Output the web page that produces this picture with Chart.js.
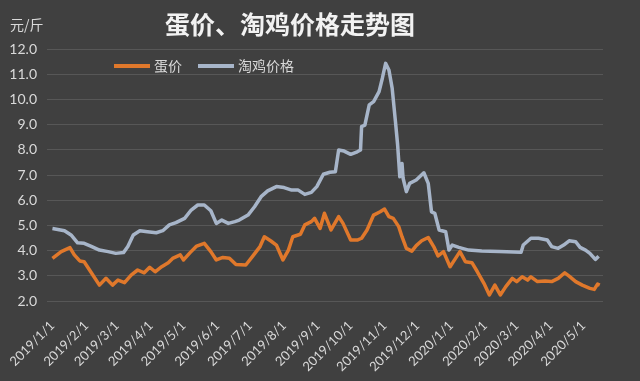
<!DOCTYPE html>
<html>
<head>
<meta charset="utf-8">
<script src="https://cdn.jsdelivr.net/npm/chart.js@4.4.1/dist/chart.umd.min.js"></script>
<style>
  html, body { margin: 0; padding: 0; background: #404040; }
  canvas { display: block; }
</style>
</head>
<body>
<canvas id="chart" width="640" height="381"></canvas>
<script>
var TITLE = '蛋价、淘鸡价格走势图';
var UNIT = '元/斤';
var MONTH_LABELS = ['2019/1/1', '2019/2/1', '2019/3/1', '2019/4/1', '2019/5/1', '2019/6/1',
  '2019/7/1', '2019/8/1', '2019/9/1', '2019/10/1', '2019/11/1', '2019/12/1',
  '2020/1/1', '2020/2/1', '2020/3/1', '2020/4/1', '2020/5/1'];

// days counted from 2019/1/1
var EGG_DAYS = [0, 8, 16, 20, 25, 29, 35, 43, 49, 55, 60, 66, 72, 78, 84, 89, 94, 100, 106, 110,
  117, 120, 126, 132, 139, 145, 150, 156, 162, 168, 177, 183, 190, 194, 200, 205, 211, 216, 220,
  227, 231, 237, 240, 245, 249, 255, 262, 266, 273, 279, 283, 288, 294, 300, 304, 308, 312, 317,
  320, 324, 329, 333, 338, 344, 349, 353, 358, 364, 369, 373, 378, 384, 389, 395, 400, 405, 410,
  415, 421, 425, 430, 435, 438, 444, 451, 457, 463, 469, 473, 479, 485, 492, 496, 499, 501];
var EGG_PRICE = [3.69, 3.96, 4.12, 3.83, 3.59, 3.56, 3.16, 2.63, 2.90, 2.63, 2.83, 2.73, 3.03, 3.23,
  3.12, 3.34, 3.16, 3.36, 3.52, 3.69, 3.83, 3.63, 3.92, 4.18, 4.29, 3.96, 3.63, 3.73, 3.70, 3.45,
  3.43, 3.76, 4.16, 4.55, 4.38, 4.22, 3.63, 4.02, 4.55, 4.65, 5.02, 5.15, 5.28, 4.88, 5.48, 4.82,
  5.35, 5.08, 4.42, 4.42, 4.49, 4.82, 5.41, 5.54, 5.65, 5.35, 5.28, 4.95, 4.55, 4.09, 3.98, 4.20,
  4.39, 4.52, 4.16, 3.79, 3.96, 3.36, 3.69, 3.96, 3.56, 3.52, 3.16, 2.70, 2.24, 2.63, 2.24, 2.57,
  2.90, 2.77, 2.96, 2.83, 2.96, 2.77, 2.79, 2.77, 2.90, 3.12, 2.99, 2.77, 2.63, 2.50, 2.46, 2.67, 2.63];

var HEN_DAYS = [0, 11, 17, 23, 29, 35, 43, 51, 58, 65, 69, 74, 80, 87, 95, 101, 107, 113, 121, 127,
  133, 139, 145, 150, 155, 161, 167, 171, 179, 185, 191, 197, 205, 212, 219, 225, 231, 237, 242,
  248, 254, 259, 262, 267, 273, 279, 282, 283, 286, 290, 294, 299, 302, 305, 308, 311, 314, 316,
  318, 320, 321, 324, 327, 333, 340, 344, 347, 350, 354, 360, 363, 366, 372, 381, 393, 409, 429,
  431, 438, 445, 453, 457, 463, 468, 473, 479, 483, 488, 492, 497, 500];
var HEN_PRICE = [4.88, 4.79, 4.62, 4.31, 4.29, 4.18, 4.02, 3.96, 3.89, 3.92, 4.16, 4.62, 4.79, 4.75,
  4.71, 4.79, 5.02, 5.11, 5.28, 5.61, 5.81, 5.81, 5.58, 5.08, 5.21, 5.08, 5.15, 5.21, 5.41, 5.74,
  6.14, 6.37, 6.54, 6.50, 6.40, 6.40, 6.23, 6.31, 6.54, 7.03, 7.11, 7.13, 7.99, 7.95, 7.82, 7.92,
  7.99, 8.92, 8.98, 9.78, 9.91, 10.31, 10.84, 11.43, 11.17, 10.44, 9.12, 8.19, 6.93, 7.46, 6.87,
  6.34, 6.67, 6.80, 7.09, 6.67, 5.54, 5.48, 4.82, 4.75, 4.02, 4.22, 4.13, 4.02, 3.98, 3.96, 3.93,
  4.22, 4.49, 4.49, 4.42, 4.16, 4.09, 4.22, 4.39, 4.35, 4.13, 4.02, 3.89, 3.65, 3.78];

var SERIES_NAMES = ['蛋价', '淘鸡价格'];
var SERIES_COLORS = ['#e0782b', '#a7b5c9'];

var BG = '#404040';
var TEXT = '#d9d9d9';
var GRID = 'rgba(255,255,255,0.12)';

function dayOf(label) {
  var p = label.split('/');
  return Math.round((Date.UTC(+p[0], +p[1] - 1, +p[2]) - Date.UTC(2019, 0, 1)) / 86400000);
}
var MONTH_DAYS = MONTH_LABELS.map(dayOf);

function points(days, vals) {
  return days.map(function (d, i) { return { x: d, y: vals[i] }; });
}

var decorPlugin = {
  id: 'decor',
  beforeDraw: function (chart) {
    var c = chart.ctx;
    c.save();
    c.fillStyle = BG;
    c.fillRect(0, 0, chart.width, chart.height);
    c.restore();
  },
  afterDraw: function (chart) {
    var c = chart.ctx;
    c.save();
    c.textBaseline = 'middle';
    c.fillStyle = '#f2f2f2';
    c.font = 'bold 25px "Noto Sans CJK SC"';
    c.textAlign = 'center';
    c.fillText(TITLE, 290, 24);

    c.fillStyle = TEXT;
    c.textAlign = 'left';
    c.font = '14px "Noto Sans CJK SC"';
    c.fillText(UNIT, 10, 25);

    // legend
    var x = 114, y = 66;
    chart.data.datasets.forEach(function (ds) {
      c.strokeStyle = ds.borderColor;
      c.lineWidth = 4;
      c.beginPath();
      c.moveTo(x, y);
      c.lineTo(x + 36, y);
      c.stroke();
      c.fillStyle = TEXT;
      c.fillText(ds.label, x + 40, y);
      x += 40 + c.measureText(ds.label).width + 16;
    });
    c.restore();
  }
};

new Chart(document.getElementById('chart'), {
  type: 'line',
  data: {
    datasets: [{
      label: SERIES_NAMES[0],
      data: points(EGG_DAYS, EGG_PRICE),
      borderColor: SERIES_COLORS[0],
      borderWidth: 3.5,
      pointRadius: 0,
      tension: 0,
      borderJoinStyle: 'round'
    }, {
      label: SERIES_NAMES[1],
      data: points(HEN_DAYS, HEN_PRICE),
      borderColor: SERIES_COLORS[1],
      borderWidth: 3.5,
      pointRadius: 0,
      tension: 0,
      borderJoinStyle: 'round'
    }]
  },
  options: {
    responsive: false,
    animation: false,
    layout: { padding: { top: 49, right: 37, left: 0, bottom: 0 } },
    plugins: {
      legend: { display: false },
      title: { display: false },
      tooltip: { enabled: false }
    },
    scales: {
      x: {
        type: 'linear',
        min: -5,
        max: 504,
        afterBuildTicks: function (scale) {
          scale.ticks = MONTH_DAYS.map(function (d) { return { value: d }; });
        },
        afterFit: function (scale) { scale.height = 80; },
        ticks: {
          autoSkip: false,
          maxRotation: 45,
          minRotation: 45,
          padding: 9,
          color: TEXT,
          font: { family: 'Lato', size: 13 },
          callback: function (v) {
            var i = MONTH_DAYS.indexOf(v);
            return i >= 0 ? MONTH_LABELS[i] : '';
          }
        },
        grid: { display: false },
        border: { display: false }
      },
      y: {
        min: 2,
        max: 12,
        afterFit: function (scale) { scale.width = 47; },
        ticks: {
          stepSize: 1,
          padding: 10,
          color: TEXT,
          font: { family: 'Lato', size: 14 },
          callback: function (v) { return v.toFixed(1); }
        },
        grid: { color: GRID, drawTicks: false },
        border: { display: false }
      }
    }
  },
  plugins: [decorPlugin]
});
</script>
</body>
</html>
